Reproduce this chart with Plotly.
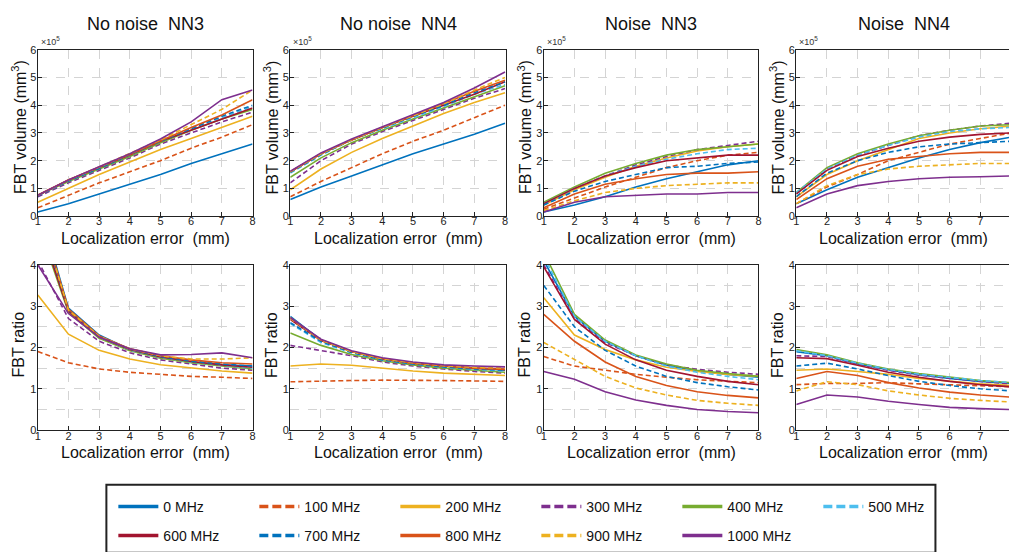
import numpy as np
import plotly.graph_objects as go

# Localization error (mm)
loc_error = [1, 2, 3, 4, 5, 6, 7, 8]

freqs = ["0 MHz", "100 MHz", "200 MHz", "300 MHz", "400 MHz", "500 MHz",
         "600 MHz", "700 MHz", "800 MHz", "900 MHz", "1000 MHz"]
colors = ["#0072BD", "#D95319", "#EDB120", "#7E2F8E", "#77AC30", "#4DBEEE",
          "#A2142F", "#0072BD", "#D95319", "#EDB120", "#7E2F8E"]
dashed = [False, True, False, True, False, True,
          False, True, False, True, False]

# FBT volume, in units of 1e5 mm^3 (one row per frequency, 0 ... 1000 MHz)
vol_clean_nn3 = [
    [0.15, 0.45, 0.80, 1.15, 1.50, 1.90, 2.25, 2.60],
    [0.30, 0.75, 1.20, 1.60, 2.00, 2.45, 2.85, 3.30],
    [0.50, 1.00, 1.50, 1.95, 2.40, 2.80, 3.20, 3.60],
    [0.70, 1.20, 1.65, 2.10, 2.60, 3.00, 3.40, 3.75],
    [0.75, 1.25, 1.70, 2.15, 2.65, 3.10, 3.50, 3.85],
    [0.75, 1.28, 1.75, 2.20, 2.70, 3.15, 3.55, 3.95],
    [0.75, 1.30, 1.75, 2.20, 2.70, 3.10, 3.50, 3.90],
    [0.73, 1.27, 1.72, 2.20, 2.70, 3.15, 3.60, 4.00],
    [0.75, 1.30, 1.77, 2.22, 2.72, 3.20, 3.65, 4.20],
    [0.75, 1.30, 1.77, 2.25, 2.75, 3.30, 3.85, 4.55],
    [0.75, 1.30, 1.78, 2.25, 2.78, 3.40, 4.20, 4.55],
]
vol_clean_nn4 = [
    [0.60, 1.05, 1.45, 1.85, 2.25, 2.60, 2.95, 3.35],
    [0.70, 1.25, 1.75, 2.25, 2.70, 3.10, 3.55, 4.00],
    [0.95, 1.70, 2.30, 2.80, 3.25, 3.70, 4.10, 4.45],
    [1.20, 2.00, 2.60, 3.05, 3.45, 3.85, 4.25, 4.60],
    [1.40, 2.10, 2.65, 3.10, 3.50, 3.90, 4.30, 4.70],
    [1.55, 2.20, 2.75, 3.15, 3.55, 3.95, 4.40, 4.75],
    [1.60, 2.25, 2.75, 3.20, 3.60, 4.00, 4.40, 4.85],
    [1.58, 2.22, 2.75, 3.18, 3.60, 4.00, 4.45, 4.85],
    [1.60, 2.25, 2.75, 3.20, 3.62, 4.05, 4.50, 4.90],
    [1.60, 2.25, 2.75, 3.20, 3.62, 4.05, 4.55, 5.00],
    [1.62, 2.28, 2.78, 3.22, 3.68, 4.10, 4.62, 5.20],
]
vol_noise_nn3 = [
    [0.15, 0.40, 0.70, 1.05, 1.35, 1.60, 1.85, 2.00],
    [0.25, 0.65, 1.05, 1.40, 1.75, 2.00, 2.20, 2.30],
    [0.40, 0.95, 1.40, 1.80, 2.10, 2.35, 2.50, 2.60],
    [0.45, 1.00, 1.45, 1.85, 2.15, 2.40, 2.55, 2.70],
    [0.50, 1.05, 1.55, 1.90, 2.20, 2.40, 2.50, 2.60],
    [0.45, 1.00, 1.45, 1.80, 2.05, 2.25, 2.40, 2.45],
    [0.45, 1.00, 1.45, 1.75, 2.00, 2.10, 2.20, 2.20],
    [0.40, 0.90, 1.25, 1.50, 1.75, 1.80, 1.90, 1.95],
    [0.30, 0.80, 1.15, 1.35, 1.50, 1.55, 1.55, 1.60],
    [0.20, 0.55, 0.85, 1.00, 1.10, 1.15, 1.20, 1.20],
    [0.15, 0.50, 0.70, 0.75, 0.80, 0.80, 0.85, 0.85],
]
vol_noise_nn4 = [
    [0.45, 0.95, 1.40, 1.75, 2.10, 2.40, 2.65, 2.85],
    [0.45, 1.05, 1.50, 2.00, 2.30, 2.60, 2.80, 3.00],
    [0.70, 1.50, 2.00, 2.40, 2.80, 3.00, 3.15, 3.25],
    [0.80, 1.70, 2.20, 2.55, 2.90, 3.10, 3.25, 3.35],
    [0.85, 1.75, 2.25, 2.60, 2.90, 3.10, 3.25, 3.30],
    [0.85, 1.70, 2.20, 2.55, 2.85, 3.05, 3.15, 3.20],
    [0.80, 1.65, 2.15, 2.45, 2.70, 2.85, 2.95, 3.00],
    [0.70, 1.55, 2.00, 2.30, 2.50, 2.60, 2.65, 2.70],
    [0.60, 1.35, 1.80, 2.05, 2.15, 2.25, 2.30, 2.30],
    [0.45, 1.10, 1.50, 1.70, 1.80, 1.85, 1.90, 1.90],
    [0.30, 0.80, 1.10, 1.25, 1.35, 1.40, 1.42, 1.45],
]

# FBT ratio (one row per frequency, 0 ... 1000 MHz)
ratio_clean_nn3 = [
    [5.50, 2.95, 2.30, 1.95, 1.78, 1.65, 1.58, 1.55],
    [1.90, 1.63, 1.48, 1.40, 1.35, 1.30, 1.28, 1.25],
    [3.27, 2.32, 1.93, 1.72, 1.58, 1.50, 1.43, 1.38],
    [4.10, 2.70, 2.15, 1.87, 1.70, 1.60, 1.50, 1.45],
    [5.00, 2.85, 2.22, 1.92, 1.74, 1.63, 1.55, 1.48],
    [5.20, 2.90, 2.25, 1.94, 1.76, 1.65, 1.57, 1.50],
    [5.10, 2.88, 2.25, 1.95, 1.77, 1.66, 1.58, 1.52],
    [5.30, 2.92, 2.27, 1.96, 1.78, 1.67, 1.60, 1.55],
    [5.40, 2.93, 2.28, 1.97, 1.80, 1.70, 1.63, 1.60],
    [5.40, 2.90, 2.27, 1.97, 1.80, 1.72, 1.72, 1.75],
    [4.00, 2.82, 2.25, 1.97, 1.82, 1.83, 1.87, 1.75],
]
ratio_clean_nn4 = [
    [2.75, 2.18, 1.90, 1.72, 1.62, 1.55, 1.50, 1.45],
    [1.17, 1.19, 1.20, 1.21, 1.21, 1.20, 1.19, 1.18],
    [1.55, 1.60, 1.57, 1.50, 1.43, 1.38, 1.35, 1.32],
    [2.05, 1.93, 1.80, 1.65, 1.55, 1.48, 1.42, 1.38],
    [2.35, 2.05, 1.83, 1.68, 1.58, 1.50, 1.45, 1.40],
    [2.58, 2.12, 1.87, 1.70, 1.60, 1.52, 1.47, 1.43],
    [2.68, 2.17, 1.90, 1.72, 1.62, 1.55, 1.50, 1.47],
    [2.60, 2.15, 1.88, 1.70, 1.60, 1.53, 1.48, 1.45],
    [2.72, 2.18, 1.90, 1.73, 1.62, 1.55, 1.50, 1.47],
    [2.70, 2.18, 1.90, 1.73, 1.63, 1.56, 1.52, 1.50],
    [2.72, 2.20, 1.92, 1.75, 1.65, 1.58, 1.55, 1.53],
]
ratio_noise_nn3 = [
    [4.10, 2.75, 2.15, 1.80, 1.57, 1.43, 1.35, 1.28],
    [1.78, 1.55, 1.45, 1.35, 1.28, 1.22, 1.18, 1.15],
    [3.20, 2.30, 1.95, 1.70, 1.52, 1.42, 1.35, 1.30],
    [4.00, 2.70, 2.12, 1.80, 1.58, 1.47, 1.40, 1.35],
    [4.30, 2.80, 2.18, 1.82, 1.60, 1.45, 1.37, 1.30],
    [4.20, 2.75, 2.15, 1.80, 1.55, 1.40, 1.30, 1.22],
    [3.95, 2.68, 2.08, 1.70, 1.45, 1.30, 1.18, 1.10],
    [3.50, 2.50, 1.93, 1.55, 1.30, 1.15, 1.05, 0.97],
    [2.80, 2.15, 1.65, 1.30, 1.08, 0.93, 0.84, 0.78],
    [2.12, 1.72, 1.30, 1.02, 0.85, 0.72, 0.65, 0.60],
    [1.42, 1.23, 0.93, 0.73, 0.60, 0.50, 0.45, 0.42],
]
ratio_noise_nn4 = [
    [1.90, 1.80, 1.60, 1.46, 1.34, 1.25, 1.18, 1.13],
    [1.10, 1.13, 1.13, 1.15, 1.12, 1.10, 1.07, 1.05],
    [1.45, 1.48, 1.42, 1.35, 1.25, 1.18, 1.12, 1.08],
    [1.80, 1.78, 1.60, 1.45, 1.33, 1.25, 1.18, 1.12],
    [1.95, 1.82, 1.63, 1.48, 1.37, 1.28, 1.20, 1.15],
    [1.92, 1.80, 1.62, 1.47, 1.35, 1.27, 1.20, 1.15],
    [1.75, 1.73, 1.57, 1.40, 1.28, 1.18, 1.10, 1.05],
    [1.55, 1.62, 1.48, 1.32, 1.18, 1.08, 1.00, 0.95],
    [1.25, 1.42, 1.32, 1.15, 1.02, 0.92, 0.85, 0.80],
    [0.95, 1.17, 1.10, 0.95, 0.85, 0.77, 0.72, 0.68],
    [0.62, 0.85, 0.80, 0.70, 0.62, 0.55, 0.52, 0.50],
]

titles = ["No noise\u00a0 NN3", "No noise\u00a0 NN4", "Noise\u00a0 NN3", "Noise\u00a0 NN4"]
volume_sets = [vol_clean_nn3, vol_clean_nn4, vol_noise_nn3, vol_noise_nn4]
ratio_sets = [ratio_clean_nn3, ratio_clean_nn4, ratio_noise_nn3, ratio_noise_nn4]
VOL_SCALE = 1e5

W, H = 1012, 552
FONT = "Liberation Sans, Arial, Helvetica, sans-serif"
GRID = "#d4d4d4"
AXIS = "#222222"

# panel geometry in pixels
col_px = [(35, 251), (289, 506), (544, 760), (798, 1014)]
row_px = [(45, 216), (266, 436)]
px_per_unit = (251 - 35) / 7.0

fig = go.Figure()
layout = dict(
    width=W, height=H, margin=dict(l=0, r=0, t=0, b=0),
    paper_bgcolor="white", plot_bgcolor="white",
    font=dict(family=FONT, color=AXIS, size=11),
    showlegend=True,
)


def fx(px):
    return px / W


def fy(py):
    return 1 - py / H


annotations = []
axis_idx = 0
for r in range(2):
    for c in range(4):
        axis_idx += 1
        sfx = "" if axis_idx == 1 else str(axis_idx)
        x0, x1 = col_px[c]
        y0, y1 = row_px[r]
        last_col = c == 3
        x_end = min(x1, W)
        xmax = 1 + (x_end - x0) / px_per_unit
        xa = dict(
            domain=[fx(x0), fx(x_end)], range=[1, xmax], anchor="y" + sfx,
            tickmode="array", tickvals=loc_error, ticktext=[str(v) for v in loc_error],
            ticks="inside", ticklen=4, tickcolor=AXIS, ticklabelstandoff=-5,
            showline=True, linecolor=AXIS, linewidth=1.3, mirror=True,
            showgrid=True, gridcolor=GRID, griddash="dash", gridwidth=1,
            zeroline=False, tickfont=dict(size=11, family=FONT, color=AXIS),
        )
        if r == 0:
            ya = dict(
                range=[0, 6 * VOL_SCALE], tickmode="array",
                tickvals=[k * VOL_SCALE for k in range(7)],
                ticktext=[str(k) for k in range(7)],
            )
        else:
            ya = dict(
                range=[0, 4], tickmode="array", tickvals=[0, 1, 2, 3, 4],
                ticktext=["0", "1", "2", "3", "4"],
                minor=dict(dtick=0.5, showgrid=True, gridcolor=GRID,
                           griddash="dash", ticks=""),
            )
        ya.update(dict(
            domain=[fy(y1), fy(y0)], anchor="x" + sfx,
            ticks="inside", ticklen=4, tickcolor=AXIS, ticklabelstandoff=-2,
            showline=True, linecolor=AXIS, linewidth=1.3, mirror=not last_col,
            showgrid=True, gridcolor=GRID, griddash="dash", gridwidth=1,
            zeroline=False, tickfont=dict(size=11, family=FONT, color=AXIS),
        ))
        layout["xaxis" + sfx] = xa
        layout["yaxis" + sfx] = ya

        series = volume_sets[c] if r == 0 else ratio_sets[c]
        for i, vals in enumerate(series):
            y = np.array(vals) * (VOL_SCALE if r == 0 else 1.0)
            fig.add_trace(go.Scatter(
                x=loc_error, y=y, mode="lines", xaxis="x" + sfx, yaxis="y" + sfx,
                line=dict(color=colors[i], width=1.6,
                          dash="5px,3px" if dashed[i] else "solid"),
                name=freqs[i], showlegend=False, hoverinfo="skip",
            ))

        cx = (x0 + x1) / 2
        # x-axis title
        annotations.append(dict(
            text="Localization error\u00a0 (mm)", x=fx(cx), y=fy(y1 + 23),
            xref="paper", yref="paper", xanchor="center", yanchor="middle",
            showarrow=False, font=dict(size=16, family=FONT, color="#111111"),
        ))
        # y-axis title
        ytxt = "FBT volume (mm<sup>3</sup>)" if r == 0 else "FBT ratio"
        annotations.append(dict(
            text=ytxt, x=fx(x0 - 19), y=fy((y0 + y1) / 2 - (6 if r == 0 else 3)),
            xref="paper", yref="paper", xanchor="center", yanchor="middle",
            textangle=-90, showarrow=False,
            font=dict(size=16, family=FONT, color="#111111"),
        ))
        if r == 0:
            # exponent marker of the volume axis
            annotations.append(dict(
                text="\u00d710<sup>5</sup>", x=fx(x0 + 1), y=fy(y0 - 1),
                xref="paper", yref="paper", xanchor="left", yanchor="bottom",
                showarrow=False, font=dict(size=9, family=FONT, color="#333333"),
            ))
            # panel title
            annotations.append(dict(
                text=titles[c], x=fx(cx), y=fy(18),
                xref="paper", yref="paper", xanchor="center", yanchor="middle",
                showarrow=False, font=dict(size=18, family=FONT, color="#111111"),
            ))

# legend entries (two rows of one shared key)
for i in range(len(freqs)):
    fig.add_trace(go.Scatter(
        x=[None], y=[None], mode="lines",
        line=dict(color=colors[i], width=3.5,
                  dash="9px,4px" if dashed[i] else "solid"),
        name=freqs[i], showlegend=True,
        legend="legend" if i < 6 else "legend2",
    ))

leg_common = dict(
    orientation="h", xanchor="left", yanchor="middle",
    entrywidth=86, entrywidthmode="pixels", itemwidth=40,
    font=dict(size=14, family=FONT, color="#111111"),
    bgcolor="rgba(0,0,0,0)", borderwidth=0, traceorder="normal",
)
layout["legend"] = dict(leg_common, x=fx(111), y=fy(515))
layout["legend2"] = dict(leg_common, x=fx(111), y=fy(545))

layout["annotations"] = annotations
layout["shapes"] = [dict(
    type="rect", xref="paper", yref="paper",
    x0=fx(104), x1=fx(938), y0=fy(562), y1=fy(492),
    line=dict(color="#222222", width=2), fillcolor="rgba(0,0,0,0)",
)]

fig.update_layout(**layout)
fig.write_html("out.html")
